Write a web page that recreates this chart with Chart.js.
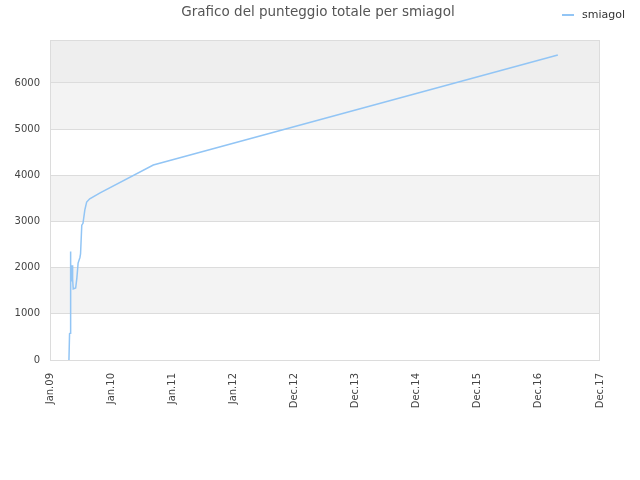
<!DOCTYPE html>
<html>
<head>
<meta charset="utf-8">
<script src="https://cdn.jsdelivr.net/npm/chart.js@4/dist/chart.umd.min.js"></script>
<style>
html, body { margin: 0; padding: 0; background: #fff; }
#wrap { width: 640px; height: 480px; position: relative; }
</style>
</head>
<body>
<div id="wrap"><canvas id="c"></canvas></div>
<script>
// data
const tickLabels = ['Jan.09', 'Jan.10', 'Jan.11', 'Jan.12', 'Dec.12', 'Dec.13', 'Dec.14', 'Dec.15', 'Dec.16', 'Dec.17'];
// x = years since Jan.09 (one tick per step)
const xs = [0.31, 0.32, 0.33, 0.335, 0.34, 0.35, 0.36, 0.37, 0.38, 0.42, 0.44, 0.46, 0.49, 0.50, 0.52, 0.54, 0.57, 0.60, 0.65, 0.82, 1.69, 8.31];
const scores = [0, 570, 580, 2350, 2100, 1700, 2050, 1750, 1540, 1560, 1780, 2100, 2220, 2300, 2920, 2960, 3250, 3420, 3490, 3620, 4223, 6606];
const yTicks = [0, 1000, 2000, 3000, 4000, 5000, 6000];
const seriesName = 'smiagol';
const chartTitle = 'Grafico del punteggio totale per smiagol';

const lineColor = '#92c5f5';
const font = 'DejaVu Sans';

// alternating horizontal bands behind the plot
const bands = {
  id: 'bands',
  beforeDraw(chart){
    const { ctx, chartArea: a, scales: { y } } = chart;
    ctx.save();
    for (let v = 0; v < y.max; v += 1000) {
      const top = y.getPixelForValue(Math.min(v + 1000, y.max));
      const bot = y.getPixelForValue(v);
      let fill = null;
      if (v >= 6000) fill = '#eeeeee';
      else if ((v / 1000) % 2 === 1) fill = '#f3f3f3';
      if (fill) { ctx.fillStyle = fill; ctx.fillRect(a.left, top, a.right - a.left, bot - top); }
    }
    ctx.restore();
  },
  afterDraw(chart){
    const { ctx, chartArea: a } = chart;
    ctx.save();
    ctx.strokeStyle = '#dcdcdc';
    ctx.lineWidth = 1;
    ctx.strokeRect(a.left + 0.5, a.top + 0.5, a.right - a.left - 1, a.bottom - a.top);
    // title
    ctx.fillStyle = '#555';
    ctx.font = `13.5px "${font}"`;
    ctx.textAlign = 'center';
    ctx.textBaseline = 'middle';
    ctx.fillText(chartTitle, 318, 12);
    // legend
    ctx.strokeStyle = lineColor;
    ctx.lineWidth = 2;
    ctx.beginPath(); ctx.moveTo(562, 15); ctx.lineTo(574, 15); ctx.stroke();
    ctx.fillStyle = '#333';
    ctx.font = `11px "${font}"`;
    ctx.textAlign = 'left';
    ctx.fillText(seriesName, 582, 15);
    ctx.restore();
  }
};

new Chart(document.getElementById('c'), {
  type: 'line',
  data: {
    datasets: [{
      label: seriesName,
      data: xs.map((x, i) => ({ x, y: scores[i] })),
      borderColor: lineColor,
      borderWidth: 1.5,
      pointRadius: 0,
      tension: 0,
      fill: false
    }]
  },
  options: {
    responsive: true,
    maintainAspectRatio: false,
    animation: false,
    layout: { padding: { top: 40, right: 40, left: 0, bottom: 0 } },
    plugins: { legend: { display: false }, title: { display: false }, tooltip: { enabled: false } },
    scales: {
      x: {
        type: 'linear',
        min: 0, max: 9,
        grid: { display: false, drawTicks: false },
        border: { display: false },
        afterFit: (s) => { s.height = 120; },
        ticks: {
          stepSize: 1,
          autoSkip: false,
          minRotation: 90, maxRotation: 90,
          padding: 13,
          color: '#444',
          font: { family: font, size: 10 },
          callback: (v) => tickLabels[v] ?? ''
        }
      },
      y: {
        min: 0, max: 6930,
        grid: { color: '#dcdcdc', drawTicks: false },
        border: { display: false },
        afterFit: (s) => { s.width = 50; },
        afterBuildTicks: (s) => { s.ticks = yTicks.map(v => ({ value: v })); },
        ticks: {
          autoSkip: false,
          padding: 10,
          color: '#444',
          font: { family: font, size: 10 },
          callback: (v) => String(v)
        }
      }
    }
  },
  plugins: [bands]
});
</script>
</body>
</html>
